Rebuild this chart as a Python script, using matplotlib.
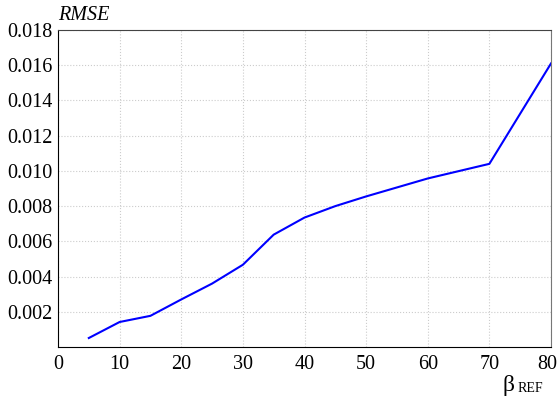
import matplotlib
matplotlib.use("Agg")
import matplotlib.pyplot as plt
import matplotlib.transforms as mtransforms

beta = [5, 10, 15, 20, 25, 30, 35, 40, 45, 50, 60, 70, 80]
rmse = [0.00051, 0.00142, 0.00177, 0.0027, 0.0036, 0.00467, 0.00638, 0.00735, 0.0080, 0.00855, 0.00957, 0.0104, 0.0161]
xticks = [0, 10, 20, 30, 40, 50, 60, 70, 80]
yticks = [0.002, 0.004, 0.006, 0.008, 0.010, 0.012, 0.014, 0.016, 0.018]

plt.rcParams['font.family'] = ['Liberation Serif', 'DejaVu Serif']
fig = plt.figure(figsize=(5.59, 3.99), dpi=100)
ax = fig.add_axes([58/559, 1-347/399, (551-58)/559, (347-30)/399])
ax.plot(beta, rmse, color='#0000ff', lw=1.5)
ax.set_xlim(0, 80)
ax.set_ylim(0, 0.018)
ax.set_xticks(xticks)
ax.set_yticks(yticks)
ax.set_yticklabels([f"{v:.3f}" for v in yticks])
ax.tick_params(length=0, labelsize=14.5)
ax.tick_params(axis='x', pad=6)
ax.tick_params(axis='y', pad=4)
ax.grid(True, color='#cccccc', linestyle=':', lw=0.8)
for s in ['left', 'bottom']:
    ax.spines[s].set_color('black')
ax.spines['top'].set_color('#444444')
ax.spines['right'].set_color('#777777')

# nudge last x tick label so it stays inside the canvas
last = ax.get_xticklabels()[-1]
last.set_transform(last.get_transform() + mtransforms.ScaledTranslation(-4/100, 0, fig.dpi_scale_trans))

fig.text(58/559, 1-16/399, 'RMSE', fontsize=14.5, style='italic', va='center', ha='left')
fig.text(508/559, 1-385/399, 'β', fontsize=17, va='center', ha='center')
fig.text(518/559, 1-389/399, 'REF', fontsize=10, va='center', ha='left')
fig.savefig('out.png', dpi=100)
